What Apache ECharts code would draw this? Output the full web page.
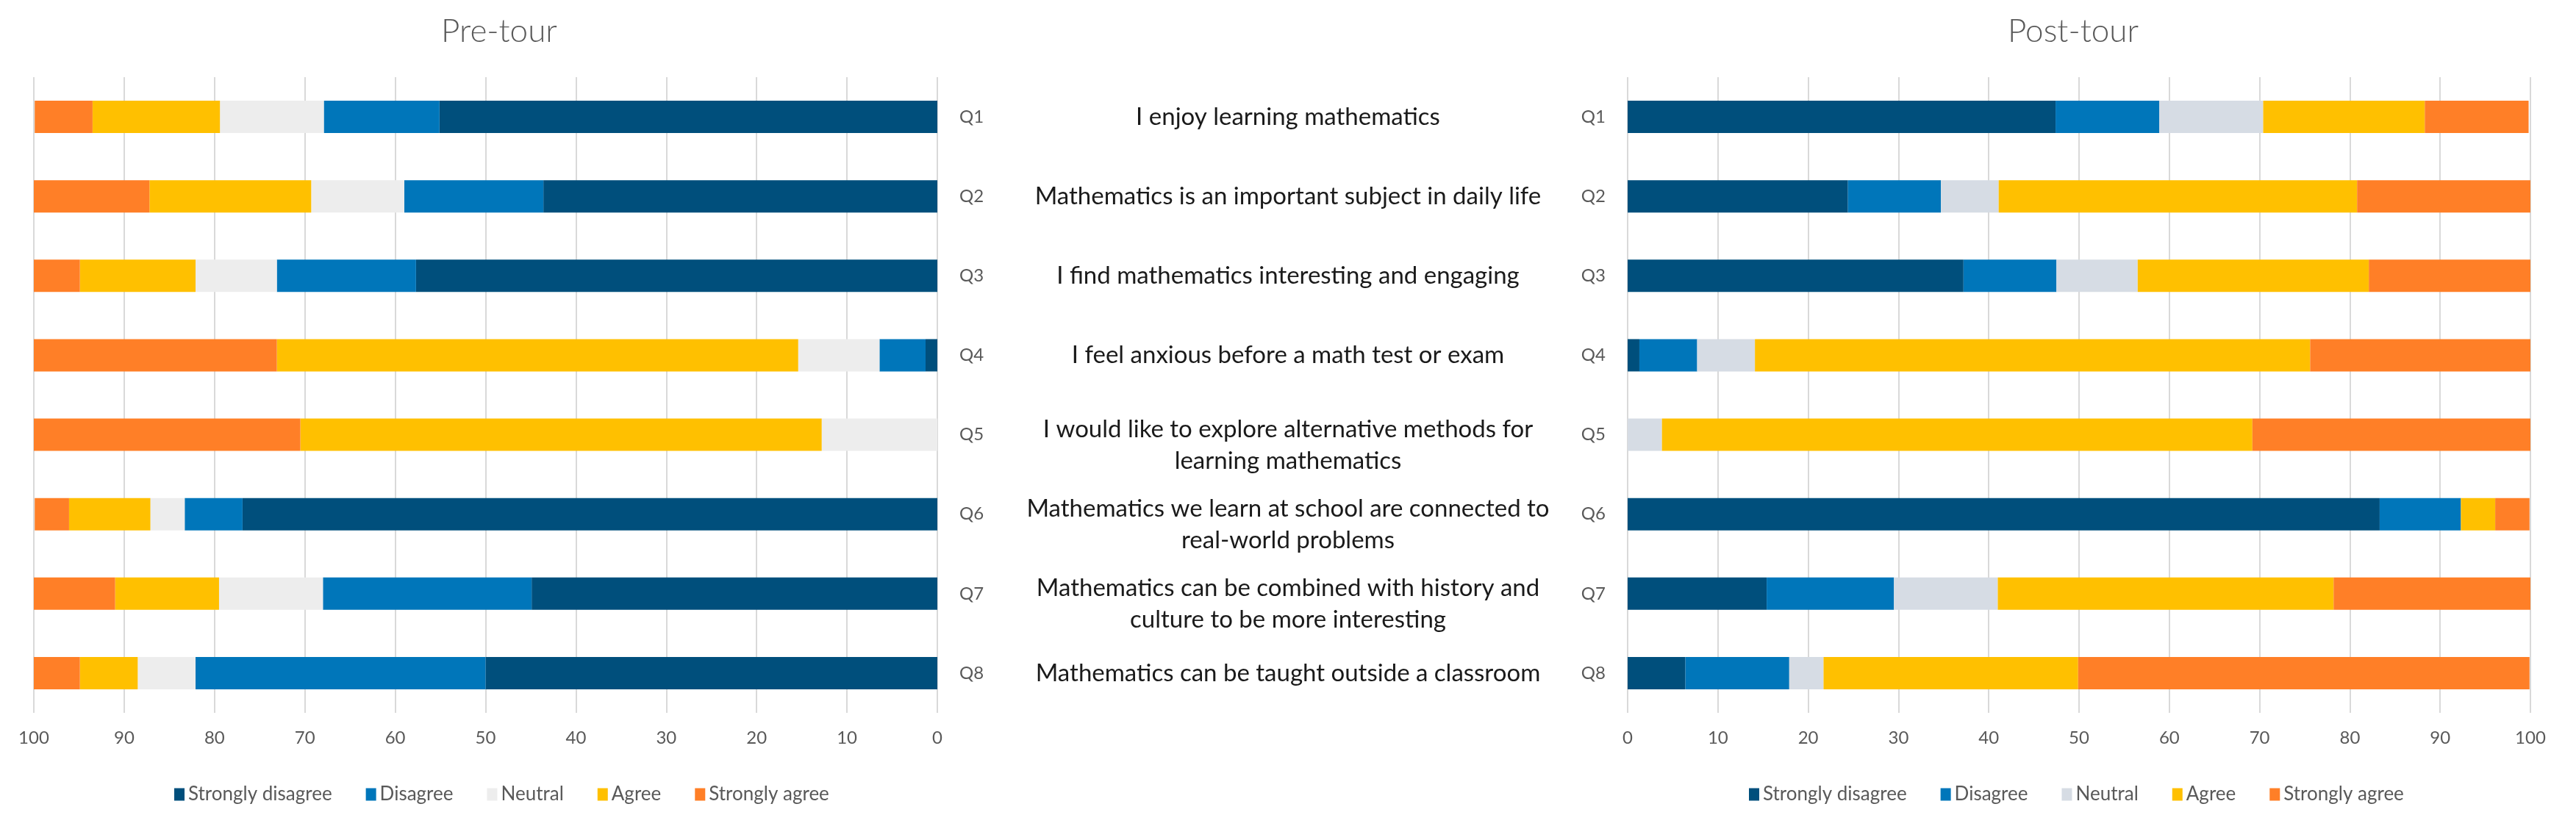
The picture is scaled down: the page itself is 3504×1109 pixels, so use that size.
<!DOCTYPE html>
<html>
<head>
<meta charset="utf-8">
<title>Pre-tour / Post-tour</title>
<script src="https://cdn.jsdelivr.net/npm/echarts@6/dist/echarts.min.js"></script>
<style>
    html, body { margin: 0; padding: 0; background: #fff; }
    #chart { width: 3504px; height: 1109px; }
</style>
</head>
<body>
<div id="chart"></div>
<script>
// categorias y textos
var preguntas = ['Q1', 'Q2', 'Q3', 'Q4', 'Q5', 'Q6', 'Q7', 'Q8'];
var enunciados = [
    'I enjoy learning mathematics',
    'Mathematics is an important subject in daily life',
    'I find mathematics interesting and engaging',
    'I feel anxious before a math test or exam',
    'I would like to explore alternative methods for\nlearning mathematics',
    'Mathematics we learn at school are connected to\nreal-world problems',
    'Mathematics can be combined with history and\nculture to be more interesting',
    'Mathematics can be taught outside a classroom'
];
var niveles = ['Strongly disagree', 'Disagree', 'Neutral', 'Agree', 'Strongly agree'];
var ticks = [0, 10, 20, 30, 40, 50, 60, 70, 80, 90, 100];

// Pre-tour (%)
var preStronglyDisagree = [55.1, 43.6, 57.7, 1.3, 0, 76.9, 44.9, 50.0];
var preDisagree = [12.8, 15.4, 15.4, 5.1, 0, 6.4, 23.1, 32.1];
var preNeutral = [11.5, 10.3, 9.0, 9.0, 12.8, 3.8, 11.5, 6.4];
var preAgree = [14.1, 17.9, 12.8, 57.7, 57.7, 9.0, 11.5, 6.4];
var preStronglyAgree = [6.4, 12.8, 5.1, 26.9, 29.5, 3.8, 9.0, 5.1];

// Post-tour (%)
var postStronglyDisagree = [47.4, 24.4, 37.2, 1.3, 0, 83.3, 15.4, 6.4];
var postDisagree = [11.5, 10.3, 10.3, 6.4, 0, 9.0, 14.1, 11.5];
var postNeutral = [11.5, 6.4, 9.0, 6.4, 3.8, 0, 11.5, 3.8];
var postAgree = [17.9, 39.7, 25.6, 61.5, 65.4, 3.8, 37.2, 28.2];
var postStronglyAgree = [11.5, 19.2, 17.9, 24.4, 30.8, 3.8, 21.8, 50.0];

var colorPre = ['#004F7C', '#0076BA', '#EDEDED', '#FFC000', '#FF7F27'];
var colorPost = ['#004F7C', '#0076BA', '#D6DCE4', '#FFC000', '#FF7F27'];

var gris = '#595959';
var fuente = 'Lato';

var chart = echarts.init(document.getElementById('chart'));

function ejeX(idx, invertido) {
    return {
        gridIndex: idx,
        type: 'value',
        min: ticks[0],
        max: ticks[ticks.length - 1],
        interval: 10,
        inverse: invertido,
        axisLine: { show: false },
        axisTick: { show: false },
        axisLabel: { color: gris, fontSize: 24, fontFamily: fuente, margin: 22 },
        splitLine: { show: true, lineStyle: { color: '#D9D9D9', width: 2 } }
    };
}

function ejeY(idx, pos) {
    return {
        gridIndex: idx,
        type: 'category',
        data: preguntas,
        inverse: true,
        position: pos,
        axisLine: { show: false },
        axisTick: { show: false },
        axisLabel: { color: gris, fontSize: 24, fontFamily: fuente, margin: 30 }
    };
}

function armarSeries(datos, colores, idx) {
    return datos.map(function (d, i) {
        return {
            name: niveles[i],
            type: 'bar',
            stack: 'total' + idx,
            xAxisIndex: idx,
            yAxisIndex: idx,
            barWidth: 44,
            itemStyle: { color: colores[i] },
            data: d
        };
    });
}

function armarLeyenda(colores, izq) {
    return {
        left: izq,
        top: 1063,
        icon: 'rect',
        itemWidth: 14,
        itemHeight: 17,
        itemGap: 46,
        textStyle: { color: gris, fontSize: 26, fontFamily: fuente },
        data: niveles.map(function (n, i) {
            return { name: n, itemStyle: { color: colores[i] } };
        })
    };
}

var series = armarSeries([preStronglyDisagree, preDisagree, preNeutral, preAgree, preStronglyAgree], colorPre, 0)
    .concat(armarSeries([postStronglyDisagree, postDisagree, postNeutral, postAgree, postStronglyAgree], colorPost, 1));

var opciones = {
    backgroundColor: '#fff',
    animation: false,
    title: [
        { text: 'Pre-tour', left: 674, top: 16, textAlign: 'center',
          textStyle: { color: gris, fontSize: 44, fontWeight: 300, fontFamily: fuente } },
        { text: 'Post-tour', left: 2815, top: 16, textAlign: 'center',
          textStyle: { color: gris, fontSize: 44, fontWeight: 300, fontFamily: fuente } }
    ],
    legend: [armarLeyenda(colorPre, 232), armarLeyenda(colorPost, 2374)],
    grid: [
        { left: 46, right: 2229, top: 105, bottom: 139 },
        { left: 2214, right: 62, top: 105, bottom: 139 },
        { left: 1752, width: 1, top: 105, bottom: 139 }
    ],
    xAxis: [
        ejeX(0, true),
        ejeX(1, false),
        { gridIndex: 2, type: 'value', show: false }
    ],
    yAxis: [
        ejeY(0, 'right'),
        ejeY(1, 'left'),
        {
            gridIndex: 2,
            type: 'category',
            data: enunciados,
            inverse: true,
            position: 'left',
            axisLine: { show: false },
            axisTick: { show: false },
            splitLine: { show: false },
            axisLabel: {
                margin: 0,
                align: 'center',
                color: '#1A1A1A',
                fontSize: 33,
                lineHeight: 43,
                fontFamily: fuente,
                // los de dos lineas bajan un poco: se agrega una linea vacia arriba
                formatter: function (t) {
                    return t.indexOf('\n') >= 0 ? '{esp| }\n' + t : t;
                },
                rich: {
                    esp: { fontSize: 2, lineHeight: 28 }
                }
            }
        }
    ],
    series: series
};

chart.setOption(opciones);
</script>
</body>
</html>
